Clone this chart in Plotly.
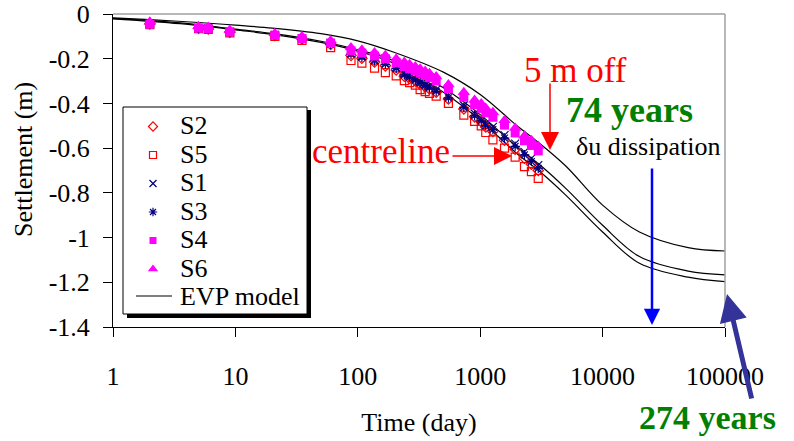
import plotly.graph_objects as go

# ---- data -------------------------------------------------------------
# measurement times (day)
obs_days = [2, 5, 6, 9, 21, 35, 60, 88, 108, 137, 168, 206, 240, 265, 295,
            323, 355, 385, 437, 550, 735, 900, 1020, 1110, 1270, 1580, 1930,
            2300, 2620, 2980]

# settlement (m) per settlement plate
s2 = [-0.044, -0.064, -0.067, -0.081, -0.096, -0.112, -0.136, -0.185, -0.198,
      -0.215, -0.232, -0.250, -0.278, -0.288, -0.300, -0.315, -0.325, -0.335,
      -0.350, -0.380, -0.425, -0.460, -0.482, -0.505, -0.525, -0.565, -0.605,
      -0.645, -0.672, -0.700]
s5 = [-0.048, -0.066, -0.069, -0.084, -0.100, -0.118, -0.150, -0.208, -0.220,
      -0.242, -0.262, -0.277, -0.298, -0.307, -0.318, -0.338, -0.347, -0.355,
      -0.367, -0.400, -0.452, -0.480, -0.500, -0.530, -0.563, -0.600, -0.640,
      -0.683, -0.705, -0.735]
s1 = [-0.042, -0.062, -0.065, -0.079, -0.094, -0.109, -0.130, -0.175, -0.188,
      -0.205, -0.220, -0.238, -0.265, -0.275, -0.287, -0.300, -0.312, -0.322,
      -0.338, -0.365, -0.408, -0.445, -0.468, -0.490, -0.505, -0.542, -0.580,
      -0.617, -0.646, -0.676]
s3 = [-0.045, -0.064, -0.067, -0.081, -0.096, -0.112, -0.135, -0.180, -0.193,
      -0.210, -0.225, -0.243, -0.272, -0.283, -0.295, -0.308, -0.320, -0.330,
      -0.346, -0.375, -0.418, -0.455, -0.478, -0.500, -0.517, -0.555, -0.592,
      -0.630, -0.660, -0.690]
s4 = [-0.045, -0.063, -0.066, -0.080, -0.095, -0.110, -0.130, -0.165, -0.175,
      -0.188, -0.200, -0.218, -0.235, -0.245, -0.255, -0.265, -0.275, -0.285,
      -0.300, -0.335, -0.372, -0.405, -0.422, -0.442, -0.462, -0.497, -0.532,
      -0.567, -0.588, -0.612]
s6 = [-0.035, -0.055, -0.058, -0.072, -0.086, -0.100, -0.118, -0.150, -0.160,
      -0.172, -0.185, -0.200, -0.215, -0.225, -0.235, -0.245, -0.255, -0.265,
      -0.280, -0.315, -0.350, -0.385, -0.400, -0.420, -0.440, -0.475, -0.510,
      -0.545, -0.565, -0.590]

# EVP model predictions
model_days = [1, 2, 5, 10, 20, 50, 100, 200, 500, 1000, 2000, 3000, 5000,
              10000, 20000, 50000, 100000]
evp_5m_off = [-0.017, -0.025, -0.038, -0.050, -0.063, -0.088, -0.120, -0.172,
              -0.260, -0.360, -0.500, -0.575, -0.680, -0.855, -0.975, -1.045,
              -1.060]
evp_mid = [-0.020, -0.030, -0.048, -0.068, -0.087, -0.122, -0.160, -0.210,
           -0.330, -0.450, -0.595, -0.670, -0.780, -0.945, -1.085, -1.150,
           -1.167]
evp_centre = [-0.022, -0.033, -0.051, -0.071, -0.091, -0.127, -0.166, -0.222,
              -0.350, -0.475, -0.625, -0.700, -0.810, -0.975, -1.115, -1.177,
              -1.197]

x_tickvals = [1, 10, 100, 1000, 10000, 100000]
x_ticktext = ["1", "10", "100", "1000", "10000", "100000"]
y_tickvals = [0, -0.2, -0.4, -0.6, -0.8, -1.0, -1.2, -1.4]
y_ticktext = ["0", "-0.2", "-0.4", "-0.6", "-0.8", "-1", "-1.2", "-1.4"]

# ---- styling ----------------------------------------------------------
FONT = "Liberation Serif"
W, H = 794, 441
L, R, T, B = 113, 69, 14, 114          # plot-area margins (px)
X0, X1, Y0, Y1 = L, W - R, T, H - B


def px(x):
    """page x pixel -> paper fraction"""
    return (x - X0) / (X1 - X0)


def py(y):
    """page y pixel -> paper fraction"""
    return (Y1 - y) / (Y1 - Y0)


series = [
    ("S2", s2, dict(symbol="diamond-open", size=7, color="#FF0000",
                    line=dict(width=1.2, color="#FF0000"))),
    ("S5", s5, dict(symbol="square-open", size=7, color="#FF0000",
                    line=dict(width=1.2, color="#FF0000"))),
    ("S1", s1, dict(symbol="x-thin-open", size=7, color="#000080",
                    line=dict(width=1.2, color="#000080"))),
    ("S3", s3, dict(symbol="asterisk-open", size=7, color="#000080",
                    line=dict(width=1.2, color="#000080"))),
    ("S4", s4, dict(symbol="square", size=7, color="#FF00FF",
                    line=dict(width=0))),
    ("S6", s6, dict(symbol="triangle-up", size=9, color="#FF00FF",
                    line=dict(width=0))),
]
# plotted points are drawn a little larger than the legend keys
data_size = {"S2": 8, "S5": 8, "S1": 8, "S3": 8, "S4": 9, "S6": 11}

fig = go.Figure()

for curve in (evp_5m_off, evp_mid, evp_centre):
    fig.add_trace(go.Scatter(x=model_days, y=curve, mode="lines",
                             line=dict(color="black", width=1.2),
                             line_shape="spline", showlegend=False,
                             hoverinfo="skip"))

for name, vals, mk in series:
    fig.add_trace(go.Scatter(x=obs_days, y=vals, mode="markers", name=name,
                             marker={**mk, "size": data_size[name]},
                             showlegend=False))

# ---- hand-built legend (box with drop shadow) --------------------------
LEG_X0, LEG_Y0, LEG_X1, LEG_Y1 = 123, 107, 307, 314
shapes = [
    dict(type="rect", xref="paper", yref="paper", layer="below",
         x0=px(LEG_X0 + 4), x1=px(LEG_X1 + 4), y0=py(LEG_Y1 + 4),
         y1=py(LEG_Y0 + 3), fillcolor="black", line=dict(width=0)),
    dict(type="rect", xref="paper", yref="paper", layer="below",
         x0=px(LEG_X0), x1=px(LEG_X1), y0=py(LEG_Y1), y1=py(LEG_Y0),
         fillcolor="white", line=dict(color="black", width=1)),
    # grey frame on top and right of the plot area
    dict(type="line", xref="paper", yref="paper", x0=0, x1=1, y0=1, y1=1,
         line=dict(color="#A0A0A0", width=1.5)),
    dict(type="line", xref="paper", yref="paper", x0=1, x1=1, y0=0, y1=1,
         line=dict(color="#A0A0A0", width=1.5)),
]

legend_rows = [126.5, 155, 183.5, 212, 240.5, 269]
annotations = []
for (name, vals, mk), row in zip(series, legend_rows):
    fig.add_trace(go.Scatter(x=[px(153)], y=[py(row)], mode="markers",
                             marker=mk, xaxis="x2", yaxis="y2",
                             showlegend=False, hoverinfo="skip"))
    annotations.append(dict(xref="paper", yref="paper", x=px(178),
                            y=py(row - 1), xanchor="left", yanchor="middle",
                            text=name, showarrow=False,
                            font=dict(family=FONT, size=26, color="black")))
fig.add_trace(go.Scatter(x=[px(136), px(172)], y=[py(296), py(296)],
                         mode="lines", line=dict(color="black", width=1.2),
                         xaxis="x2", yaxis="y2", showlegend=False,
                         hoverinfo="skip"))
annotations.append(dict(xref="paper", yref="paper", x=px(178), y=py(296.5),
                        xanchor="left", yanchor="middle", text="EVP model",
                        showarrow=False,
                        font=dict(family=FONT, size=26, color="black")))


# ---- labels and arrows -------------------------------------------------
def label(text, x, y, size, color, bold=False, angle=0):
    if bold:
        text = "<b>" + text + "</b>"
    return dict(xref="paper", yref="paper", x=px(x), y=py(y), text=text,
                xanchor="center", yanchor="middle", showarrow=False,
                textangle=angle,
                font=dict(family=FONT, size=size, color=color))


def arrow(tip_x, tip_y, tail_x, tail_y, color, width, size):
    return dict(xref="paper", yref="paper", x=px(tip_x), y=py(tip_y),
                axref="pixel", ayref="pixel", ax=tail_x - tip_x,
                ay=tail_y - tip_y, text="", showarrow=True, arrowhead=2,
                arrowsize=size, arrowwidth=width, arrowcolor=color,
                standoff=0, startstandoff=0)


annotations += [
    label("Settlement (m)", 24, 160, 26, "black", angle=-90),
    label("5 m off", 575, 70, 35, "#FF0000"),
    label("74 years", 629, 110, 36, "#008000", bold=True),
    label("δu dissipation", 648, 146, 26, "black"),
    label("centreline", 381, 152, 35, "#FF0000"),
    label("274 years", 707, 417, 34, "#008000", bold=True),
    arrow(550, 150, 550, 82, "#FF0000", 1.5, 2.4),
    arrow(512, 156, 451, 156, "#FF0000", 1.5, 2.4),
    arrow(652, 325, 652, 167, "#0000FF", 2.5, 1.3),
    arrow(727, 294, 752, 400, "#333399", 5, 1.1),
]

fig.update_layout(
    width=W, height=H,
    margin=dict(l=L, r=R, t=T, b=B, autoexpand=False),
    paper_bgcolor="white", plot_bgcolor="white",
    font=dict(family=FONT, size=26, color="black"),
    showlegend=False,
    shapes=shapes,
    annotations=annotations,
    xaxis=dict(type="log", range=[0, 5], tickvals=x_tickvals,
               ticktext=x_ticktext, ticks="outside", ticklen=9,
               tickcolor="black", tickwidth=1, showline=True,
               linecolor="black", linewidth=1, showgrid=False, zeroline=False,
               automargin=False, ticklabelstandoff=17,
               tickfont=dict(family=FONT, size=26, color="black"),
               title=dict(text="Time (day)", standoff=22,
                          font=dict(family=FONT, size=26, color="black"))),
    yaxis=dict(range=[-1.4, 0], tickvals=y_tickvals, ticktext=y_ticktext,
               ticks="outside", ticklen=9, tickcolor="black", tickwidth=1,
               showline=True, linecolor="black", linewidth=1,
               showgrid=False, zeroline=False, automargin=False,
               ticklabelstandoff=8,
               tickfont=dict(family=FONT, size=26, color="black")),
    xaxis2=dict(overlaying="x", range=[0, 1], visible=False,
                fixedrange=True, automargin=False),
    yaxis2=dict(overlaying="y", range=[0, 1], visible=False,
                fixedrange=True, automargin=False),
)

fig.write_html("out.html")
